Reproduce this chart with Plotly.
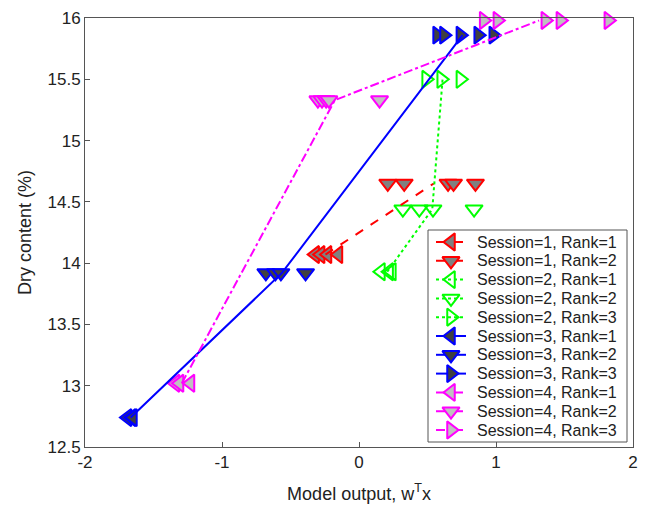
import plotly.graph_objects as go
import numpy as np

# ---- data ----
s1r1_x = [-0.32, -0.28, -0.23, -0.15]; s1r1_y = 14.07
s1r2_x = [0.21, 0.33, 0.65, 0.69, 0.85]; s1r2_y = 14.65
s2r1_x = [0.16, 0.22, 0.24]; s2r1_y = 13.93
s2r2_x = [0.32, 0.44, 0.54, 0.84]; s2r2_y = 14.44
s2r3_x = [0.49, 0.60, 0.74]; s2r3_y = 15.50
s3r1_x = [-1.69, -1.66, -1.65]; s3r1_y = 12.74
s3r2_x = [-0.68, -0.61, -0.57, -0.39]; s3r2_y = 13.92
s3r3_x = [0.57, 0.62, 0.74, 0.87, 0.98]; s3r3_y = 15.86
s4r1_x = [-1.34, -1.31, -1.23]; s4r1_y = 13.02
s4r2_x = [-0.30, -0.27, -0.24, -0.22, 0.15]; s4r2_y = 15.33
s4r3_x = [0.91, 1.01, 1.36, 1.47, 1.82]; s4r3_y = 15.98

x_ticks = [-2, -1, 0, 1, 2]
x_ticktext = ["-2", "-1", "0", "1", "2"]
y_ticks = [12.5, 13, 13.5, 14, 14.5, 15, 15.5, 16]
y_ticktext = ["12.5", "13", "13.5", "14", "14.5", "15", "15.5", "16"]

sessions = [
    dict(name=1, color="#ff0000", fill="#808080", dash="dash", open=False,
         ranks=[(s1r1_x, s1r1_y), (s1r2_x, s1r2_y)]),
    dict(name=2, color="#00ff00", fill="rgba(0,0,0,0)", dash="dot", open=True,
         ranks=[(s2r1_x, s2r1_y), (s2r2_x, s2r2_y), (s2r3_x, s2r3_y)]),
    dict(name=3, color="#0000ff", fill="#404040", dash="solid", open=False,
         ranks=[(s3r1_x, s3r1_y), (s3r2_x, s3r2_y), (s3r3_x, s3r3_y)]),
    dict(name=4, color="#ff00ff", fill="#c0c0c0", dash="dashdot", open=False,
         ranks=[(s4r1_x, s4r1_y), (s4r2_x, s4r2_y), (s4r3_x, s4r3_y)]),
]
symbols = ["triangle-left", "triangle-down", "triangle-right"]
MSIZE = 15
FONT = "Liberation Sans, Arial, sans-serif"

fig = go.Figure()

legend_entries = []
for s in sessions:
    for ri, (xs, yv) in enumerate(s["ranks"]):
        sym = symbols[ri] + ("-open" if s["open"] else "")
        mcolor = s["color"] if s["open"] else s["fill"]
        fig.add_trace(go.Scatter(
            x=xs, y=[yv] * len(xs), mode="markers",
            name=f"Session={s['name']}, Rank={ri+1}", showlegend=False,
            marker=dict(symbol=sym, size=MSIZE, color=mcolor,
                        line=dict(color=s["color"], width=2)),
            cliponaxis=False,
        ))
        legend_entries.append((f"Session={s['name']}, Rank={ri+1}", sym, mcolor, s["color"], s["dash"]))

for s in sessions:
    mx = [float(np.mean(xs)) for xs, _ in s["ranks"]]
    my = [yv for _, yv in s["ranks"]]
    fig.add_trace(go.Scatter(
        x=mx, y=my, mode="lines", showlegend=False,
        line=dict(color=s["color"], width=2, dash=s["dash"]),
        cliponaxis=False, hoverinfo="skip",
    ))

# ---- layout geometry (screenshot pixels; page body adds an 8px offset) ----
OFF = 8
W, H = 652, 506
PL, PR, PT, PB = 85, 633, 18, 447

def fx(px):
    return (px - PL) / (PR - PL)

def fy(py):
    return (PB - py) / (PB - PT)

box = dict(x0=428, x1=627, y0=230, y1=442)
first_y, step = 242, 18.8
shapes = [dict(type="rect", xref="paper", yref="paper",
               x0=fx(box["x0"]), x1=fx(box["x1"]), y0=fy(box["y1"]), y1=fy(box["y0"]),
               fillcolor="white", line=dict(color="#555555", width=1), layer="below")]
annotations = []
for i, (label, sym, mcolor, lcolor, dash) in enumerate(legend_entries):
    yc = fy(first_y + i * step)
    fig.add_trace(go.Scatter(
        x=[fx(436), fx(466)], y=[yc, yc], xaxis="x2", yaxis="y2", mode="lines",
        line=dict(color=lcolor, width=2, dash=dash), showlegend=False, hoverinfo="skip",
        cliponaxis=False))
    fig.add_trace(go.Scatter(
        x=[fx(451)], y=[yc], xaxis="x2", yaxis="y2", mode="markers",
        marker=dict(symbol=sym, size=MSIZE, color=mcolor, line=dict(color=lcolor, width=2)),
        showlegend=False, hoverinfo="skip", cliponaxis=False))
    annotations.append(dict(x=fx(475), y=yc, xref="paper", yref="paper", text=label,
                            showarrow=False, xanchor="left", yanchor="middle",
                            font=dict(family=FONT, size=16, color="#222222")))

axis_common = dict(
    showline=True, mirror=True, linecolor="#555555", linewidth=1,
    ticks="inside", ticklen=5, tickcolor="#555555", showgrid=False, zeroline=False,
    tickfont=dict(family=FONT, size=17, color="#222222"), automargin=False,
)

fig.update_layout(
    width=W, height=H,
    margin=dict(l=PL - OFF, r=W + OFF - PR, t=PT - OFF, b=H + OFF - PB, pad=0),
    paper_bgcolor="white", plot_bgcolor="white",
    font=dict(family=FONT, color="#222222"),
    xaxis=dict(range=[-2, 2], tickvals=x_ticks, ticktext=x_ticktext,
               title=dict(text="Model output, w<sup>T</sup>x", font=dict(size=18), standoff=15),
               **axis_common),
    yaxis=dict(range=[12.5, 16], tickvals=y_ticks, ticktext=y_ticktext,
               title=dict(text="Dry content (%)", font=dict(size=18), standoff=11),
               **axis_common),
    xaxis2=dict(overlaying="x", range=[0, 1], visible=False, fixedrange=True),
    yaxis2=dict(overlaying="y", range=[0, 1], visible=False, fixedrange=True),
    shapes=shapes,
    annotations=annotations,
    showlegend=False,
)

fig.write_html("out.html")
